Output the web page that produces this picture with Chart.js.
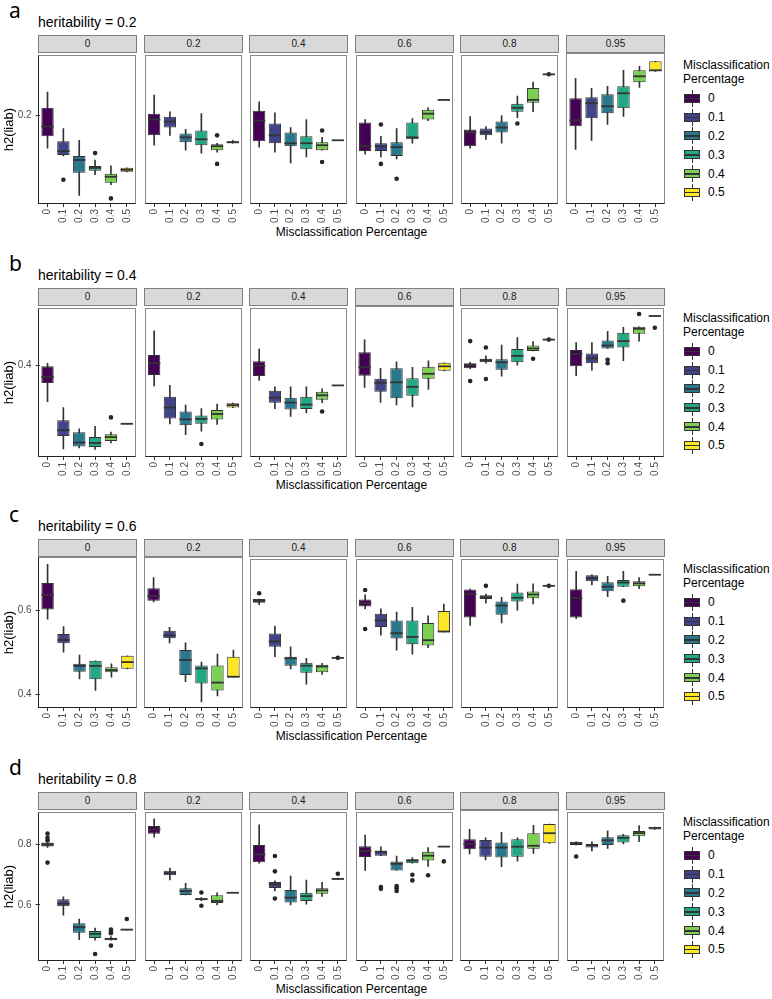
<!DOCTYPE html>
<html>
<head>
<meta charset="utf-8">
<script src="https://cdn.jsdelivr.net/npm/chart.js"></script>
<style>
  body { margin: 0; background: #fff; font-family: "Liberation Sans", Arial, sans-serif; }
  #page { position: relative; width: 772px; height: 999px; overflow: hidden; background: #fff; }
  .abs { position: absolute; }
  .letter { font-family: "Noto Sans", sans-serif; font-size: 21px; line-height: 21px; color: #000; }
  .htitle { font-size: 14px; line-height: 14px; color: #000; white-space: nowrap; }
  .strip { background: #d9d9d9; border: 1px solid #7f7f7f; box-sizing: border-box; font-size: 10px;
           line-height: 16px; text-align: center; color: #1a1a1a; }
  .xtitle { font-size: 12px; line-height: 14px; text-align: center; color: #000; white-space: nowrap; }
  .legtitle { font-size: 12px; line-height: 13.5px; color: #000; }
  .keylab { font-size: 12px; line-height: 14px; color: #000; }
  .kbox { position: absolute; left: 0; top: 4px; width: 16px; height: 9px; border: 1px solid #333; box-sizing: border-box; }
  .kmed { position: absolute; left: 0; top: 8px; width: 16px; height: 1.5px; background: #333; }
  .kwhisk { position: absolute; left: 7.5px; top: 0; width: 1px; height: 17px; background: #333; }
</style>
</head>
<body>
<div id="page"></div>
<script>
const misLevels = ['0', '0.1', '0.2', '0.3', '0.4', '0.5'];
const facetLabels = ['0', '0.2', '0.4', '0.6', '0.8', '0.95'];
const rowLetters = ['a', 'b', 'c', 'd'];
const heritability = ['0.2', '0.4', '0.6', '0.8'];
const yTicks = [[0.2], [0.4], [0.4, 0.6], [0.6, 0.8]];
const yLimits = [[0.1103, 0.2613], [0.2146, 0.5166], [0.3672, 0.7285], [0.414, 0.9067]];
const viridis = ['#440154', '#414487', '#2A788E', '#22A884', '#7AD151', '#FDE725'];

// each box: [lower whisker, q1, median, q3, upper whisker], one list of 6 per facet
const boxesA = [
  [[0.167,0.179,0.189,0.208,0.224],[0.159,0.160,0.164,0.174,0.187],[0.119,0.142,0.155,0.159,0.175],[0.140,0.144,0.147,0.149,0.155],[0.130,0.132,0.138,0.141,0.149],[0.143,0.143,0.145,0.147,0.147]],
  [[0.170,0.180,0.196,0.202,0.221],[0.180,0.188,0.194,0.199,0.204],[0.165,0.173,0.178,0.182,0.186],[0.162,0.170,0.176,0.185,0.202],[0.163,0.165,0.169,0.171,0.172],[0.172,0.172,0.173,0.174,0.175]],
  [[0.168,0.174,0.195,0.205,0.214],[0.163,0.172,0.180,0.192,0.203],[0.152,0.169,0.172,0.183,0.188],[0.158,0.166,0.172,0.179,0.196],[0.165,0.165,0.170,0.173,0.178],[0.175,0.175,0.175,0.175,0.175]],
  [[0.161,0.164,0.169,0.193,0.196],[0.158,0.164,0.169,0.172,0.179],[0.156,0.159,0.168,0.173,0.187],[0.172,0.176,0.178,0.193,0.197],[0.195,0.196,0.202,0.206,0.208],[0.216,0.216,0.216,0.216,0.216]],
  [[0.167,0.169,0.183,0.186,0.199],[0.176,0.180,0.183,0.187,0.189],[0.172,0.183,0.188,0.194,0.200],[0.198,0.204,0.208,0.212,0.220],[0.204,0.213,0.216,0.228,0.234],[0.241,0.241,0.242,0.242,0.242]],
  [[0.165,0.188,0.194,0.216,0.236],[0.174,0.196,0.211,0.217,0.226],[0.190,0.201,0.208,0.220,0.228],[0.198,0.206,0.221,0.228,0.244],[0.227,0.232,0.238,0.244,0.248],[0.243,0.243,0.244,0.253,0.253]]
];
const outliersA = [
  [[], [0.135], [], [0.162], [0.116], []],
  [[], [], [], [], [0.180, 0.151], []],
  [[], [], [], [], [0.185, 0.153], []],
  [[], [0.191, 0.151], [0.136], [], [], []],
  [[], [], [], [0.192], [], [0.242]],
  [[], [], [], [], [], []]
];

const boxesB = [
  [[0.327,0.365,0.377,0.399,0.405],[0.231,0.257,0.269,0.289,0.315],[0.233,0.236,0.244,0.265,0.272],[0.230,0.235,0.243,0.255,0.277],[0.243,0.247,0.255,0.261,0.265],[0.282,0.282,0.282,0.282,0.282]],
  [[0.359,0.381,0.405,0.422,0.471],[0.282,0.293,0.315,0.337,0.360],[0.260,0.279,0.291,0.307,0.320],[0.267,0.282,0.292,0.299,0.313],[0.281,0.291,0.302,0.310,0.322],[0.315,0.315,0.320,0.324,0.324]],
  [[0.370,0.379,0.400,0.409,0.434],[0.313,0.325,0.335,0.349,0.357],[0.297,0.311,0.325,0.335,0.357],[0.304,0.312,0.321,0.337,0.357],[0.325,0.331,0.340,0.347,0.353],[0.360,0.360,0.360,0.360,0.360]],
  [[0.354,0.377,0.394,0.424,0.449],[0.324,0.345,0.363,0.371,0.392],[0.319,0.332,0.364,0.392,0.405],[0.315,0.337,0.355,0.372,0.394],[0.350,0.371,0.381,0.395,0.407],[0.387,0.387,0.396,0.403,0.403]],
  [[0.394,0.395,0.401,0.405,0.407],[0.405,0.407,0.411,0.414,0.420],[0.379,0.392,0.407,0.413,0.442],[0.401,0.407,0.420,0.434,0.457],[0.430,0.430,0.435,0.441,0.449],[0.453,0.453,0.453,0.453,0.453]],
  [[0.380,0.399,0.424,0.432,0.447],[0.391,0.405,0.415,0.425,0.447],[0.435,0.435,0.441,0.451,0.470],[0.410,0.437,0.450,0.467,0.478],[0.450,0.465,0.475,0.479,0.479],[0.501,0.501,0.501,0.501,0.501]]
];
const outliersB = [
  [[], [], [], [], [0.295], []],
  [[], [], [], [0.241], [], []],
  [[], [], [], [], [0.307], []],
  [[], [], [], [], [], []],
  [[0.450, 0.369], [0.437, 0.373], [], [], [0.414], [0.453]],
  [[], [], [0.412, 0.405], [], [0.505], [0.477]]
];

const boxesC = [
  [[0.580,0.603,0.638,0.666,0.711],[0.501,0.522,0.530,0.544,0.562],[0.437,0.454,0.468,0.473,0.494],[0.409,0.436,0.468,0.480,0.480],[0.441,0.453,0.458,0.465,0.473],[0.461,0.461,0.477,0.492,0.492]],
  [[0.621,0.624,0.635,0.654,0.679],[0.523,0.534,0.541,0.552,0.560],[0.430,0.446,0.482,0.506,0.523],[0.382,0.426,0.462,0.469,0.477],[0.396,0.409,0.428,0.469,0.496],[0.441,0.441,0.442,0.490,0.506]],
  [[0.618,0.623,0.628,0.632,0.632],[0.492,0.516,0.529,0.548,0.566],[0.462,0.470,0.488,0.492,0.516],[0.425,0.453,0.470,0.477,0.488],[0.449,0.454,0.468,0.472,0.476],[0.489,0.489,0.489,0.489,0.489]],
  [[0.608,0.614,0.622,0.631,0.642],[0.544,0.564,0.580,0.596,0.608],[0.508,0.536,0.549,0.580,0.600],[0.498,0.522,0.540,0.580,0.612],[0.514,0.519,0.532,0.574,0.591],[0.552,0.552,0.553,0.603,0.620]],
  [[0.568,0.587,0.644,0.655,0.656],[0.622,0.632,0.636,0.641,0.644],[0.574,0.594,0.616,0.626,0.636],[0.605,0.626,0.635,0.648,0.668],[0.620,0.634,0.643,0.650,0.669],[0.664,0.664,0.664,0.664,0.664]],
  [[0.584,0.587,0.634,0.656,0.699],[0.666,0.675,0.683,0.690,0.691],[0.638,0.651,0.662,0.673,0.687],[0.662,0.662,0.672,0.678,0.699],[0.657,0.663,0.670,0.675,0.684],[0.691,0.691,0.691,0.691,0.691]]
];
const outliersC = [
  [[], [], [], [], [], []],
  [[], [], [], [], [], []],
  [[0.646], [], [], [], [], [0.489]],
  [[0.654, 0.559], [], [], [], [], []],
  [[], [0.664], [], [], [], [0.664]],
  [[], [], [], [0.628], [], []]
];

const boxesD = [
  [[0.790,0.793,0.800,0.807,0.808],[0.566,0.595,0.604,0.619,0.627],[0.485,0.508,0.526,0.539,0.553],[0.483,0.490,0.504,0.513,0.523],[0.483,0.483,0.487,0.491,0.495],[0.516,0.516,0.518,0.519,0.519]],
  [[0.824,0.836,0.850,0.861,0.885],[0.683,0.698,0.705,0.713,0.722],[0.633,0.633,0.646,0.655,0.671],[0.614,0.615,0.619,0.622,0.624],[0.600,0.606,0.613,0.632,0.640],[0.640,0.640,0.640,0.640,0.640]],
  [[0.738,0.741,0.767,0.798,0.865],[0.646,0.656,0.668,0.676,0.680],[0.600,0.608,0.624,0.649,0.695],[0.602,0.613,0.629,0.640,0.682],[0.628,0.637,0.648,0.655,0.675],[0.684,0.684,0.686,0.688,0.689]],
  [[0.714,0.759,0.779,0.794,0.831],[0.763,0.763,0.776,0.779,0.792],[0.714,0.714,0.736,0.744,0.762],[0.738,0.738,0.747,0.751,0.757],[0.727,0.747,0.763,0.776,0.790],[0.793,0.793,0.793,0.793,0.793]],
  [[0.763,0.779,0.795,0.811,0.844],[0.744,0.754,0.784,0.809,0.816],[0.722,0.752,0.784,0.801,0.834],[0.740,0.754,0.787,0.811,0.816],[0.765,0.780,0.790,0.831,0.857],[0.798,0.798,0.831,0.861,0.861]],
  [[0.798,0.798,0.803,0.809,0.809],[0.779,0.790,0.798,0.802,0.809],[0.787,0.798,0.814,0.824,0.845],[0.802,0.807,0.822,0.831,0.834],[0.809,0.827,0.838,0.845,0.863],[0.850,0.850,0.855,0.858,0.858]]
];
const outliersD = [
  [[0.836, 0.822, 0.814, 0.740], [], [], [0.437], [0.518, 0.512, 0.506, 0.465], [0.553]],
  [[], [], [], [0.641, 0.597], [], []],
  [[], [0.762, 0.711, 0.621], [], [], [], [0.703]],
  [[], [0.659, 0.653], [0.662, 0.655, 0.646], [0.700, 0.681], [0.698], [0.744]],
  [[], [], [], [], [], []],
  [[0.760], [], [], [], [], []]
];

const allBoxes = [boxesA, boxesB, boxesC, boxesD];
const allOutliers = [outliersA, outliersB, outliersC, outliersD];

// layout
const rowTop = [35, 288, 539, 792];
const panelLeft = [38, 144, 249, 355, 460, 566];
const panelW = 99, panelH = 151, stripH = 18, xAxisH = 30, yAxisW = 38, inset = 1.6;

Chart.defaults.font.family = '"Liberation Sans", Arial, sans-serif';

const panelPlugin = {
  id: 'panel',
  afterDatasetsDraw(chart, args, opts) {
    const { ctx } = chart;
    const y = chart.scales.y;
    const meta = chart.getDatasetMeta(1);
    ctx.save();
    ctx.strokeStyle = '#333';
    ctx.lineWidth = 1.8;
    opts.medians.forEach((m, i) => {
      const bar = meta.data[i];
      const py = y.getPixelForValue(m);
      ctx.beginPath();
      ctx.moveTo(bar.x - bar.width / 2, py);
      ctx.lineTo(bar.x + bar.width / 2, py);
      ctx.stroke();
    });
    ctx.restore();
  },
  afterDraw(chart, args, opts) {
    const { ctx, chartArea: a } = chart;
    const l = Math.round(a.left - inset) + 0.5, r = Math.round(a.right + inset) - 0.5;
    const t = Math.round(a.top) + 0.5, b = Math.round(a.bottom) - 0.5;
    ctx.save();
    ctx.lineWidth = 1;
    ctx.strokeStyle = '#8a8a8a';
    ctx.strokeRect(l, t, r - l, b - t);
    ctx.strokeStyle = '#222';
    ctx.beginPath();
    ctx.moveTo(l, b); ctx.lineTo(r, b);
    if (opts.leftAxis) { ctx.moveTo(l, t); ctx.lineTo(l, b); }
    ctx.stroke();
    ctx.restore();
  }
};

const page = document.getElementById('page');
function addDiv(cls, left, top, html, extra) {
  const d = document.createElement('div');
  d.className = 'abs ' + cls;
  d.style.left = left + 'px';
  d.style.top = top + 'px';
  if (extra) Object.assign(d.style, extra);
  d.innerHTML = html;
  page.appendChild(d);
  return d;
}

for (let r = 0; r < 4; r++) {
  const top = rowTop[r];
  addDiv('letter', 9, top - 35, rowLetters[r]);
  addDiv('htitle', 38, top - 20, 'heritability = ' + heritability[r]);
  addDiv('xtitle', panelLeft[0], top + 190, 'Misclassification Percentage', { width: (panelLeft[5] + panelW - panelLeft[0]) + 'px' });

  // legend
  addDiv('legtitle', 683, top + 24, 'Misclassification<br>Percentage');
  misLevels.forEach((lev, k) => {
    const cy = top + 63.3 + 18.8 * k;
    const key = addDiv('', 684, cy - 8.5, '<div class="kwhisk"></div><div class="kbox"></div><div class="kmed"></div>', { width: '16px', height: '17px' });
    key.querySelector('.kbox').style.background = viridis[k];
    addDiv('keylab', 708, cy - 7, lev);
  });

  for (let f = 0; f < 6; f++) {
    const first = f === 0;
    addDiv('strip', panelLeft[f], top, facetLabels[f], { width: panelW + 'px', height: stripH + 'px' });

    const boxes = allBoxes[r][f];
    const outs = allOutliers[r][f];
    const outPts = [];
    outs.forEach((list, i) => list.forEach(v => outPts.push({ x: misLevels[i], y: v })));

    const cv = document.createElement('canvas');
    const cw = first ? panelLeft[0] + panelW : panelW;
    const ch = panelH + xAxisH;
    cv.width = cw; cv.height = ch;
    cv.className = 'abs';
    cv.style.left = (first ? 0 : panelLeft[f]) + 'px';
    cv.style.top = (top + stripH) + 'px';
    page.appendChild(cv);

    new Chart(cv, {
      type: 'bar',
      data: {
        labels: misLevels,
        datasets: [
          { type: 'line', data: outPts, showLine: false, pointRadius: 2.3, pointHoverRadius: 2.3,
            pointBackgroundColor: '#262626', pointBorderWidth: 0, order: 0 },
          { type: 'bar', data: boxes.map(b => [b[1], b[3]]), backgroundColor: viridis, borderColor: '#333',
            borderWidth: 1, borderSkipped: false, barPercentage: 0.78, categoryPercentage: 1, grouped: false, order: 1 },
          { type: 'bar', data: boxes.map(b => [b[0], b[4]]), backgroundColor: '#333', barThickness: 1,
            grouped: false, order: 2 }
        ]
      },
      options: {
        responsive: false,
        animation: false,
        layout: { padding: { left: first ? 0 : inset, right: inset, top: 0, bottom: 0 } },
        plugins: {
          legend: { display: false },
          tooltip: { enabled: false },
          panel: { medians: boxes.map(b => b[2]), leftAxis: first }
        },
        scales: {
          x: {
            type: 'category',
            offset: true,
            grid: { display: true, drawOnChartArea: false, drawTicks: true, tickLength: 3, color: '#333', offset: false },
            border: { display: false },
            ticks: { minRotation: 90, maxRotation: 90, autoSkip: false, padding: 2, color: '#4d4d4d', font: { size: 10 } },
            afterFit: s => { s.height = xAxisH; s.paddingLeft = 0; s.paddingRight = 0; }
          },
          y: {
            display: first,
            min: yLimits[r][0],
            max: yLimits[r][1],
            grid: { display: true, drawOnChartArea: false, drawTicks: true, tickLength: 4, color: '#333' },
            border: { display: false },
            ticks: { padding: 4, color: '#4d4d4d', font: { size: 10 }, callback: v => String(v) },
            afterBuildTicks: s => { s.ticks = yTicks[r].map(v => ({ value: v })); },
            title: { display: true, text: 'h2(liab)', color: '#000', font: { size: 13 }, padding: { top: 2, bottom: 0 } },
            afterFit: s => { s.width = first ? yAxisW + inset : 0; s.paddingTop = 0; s.paddingBottom = 0; }
          }
        }
      },
      plugins: [panelPlugin]
    });
  }
}
</script>
</body>
</html>
